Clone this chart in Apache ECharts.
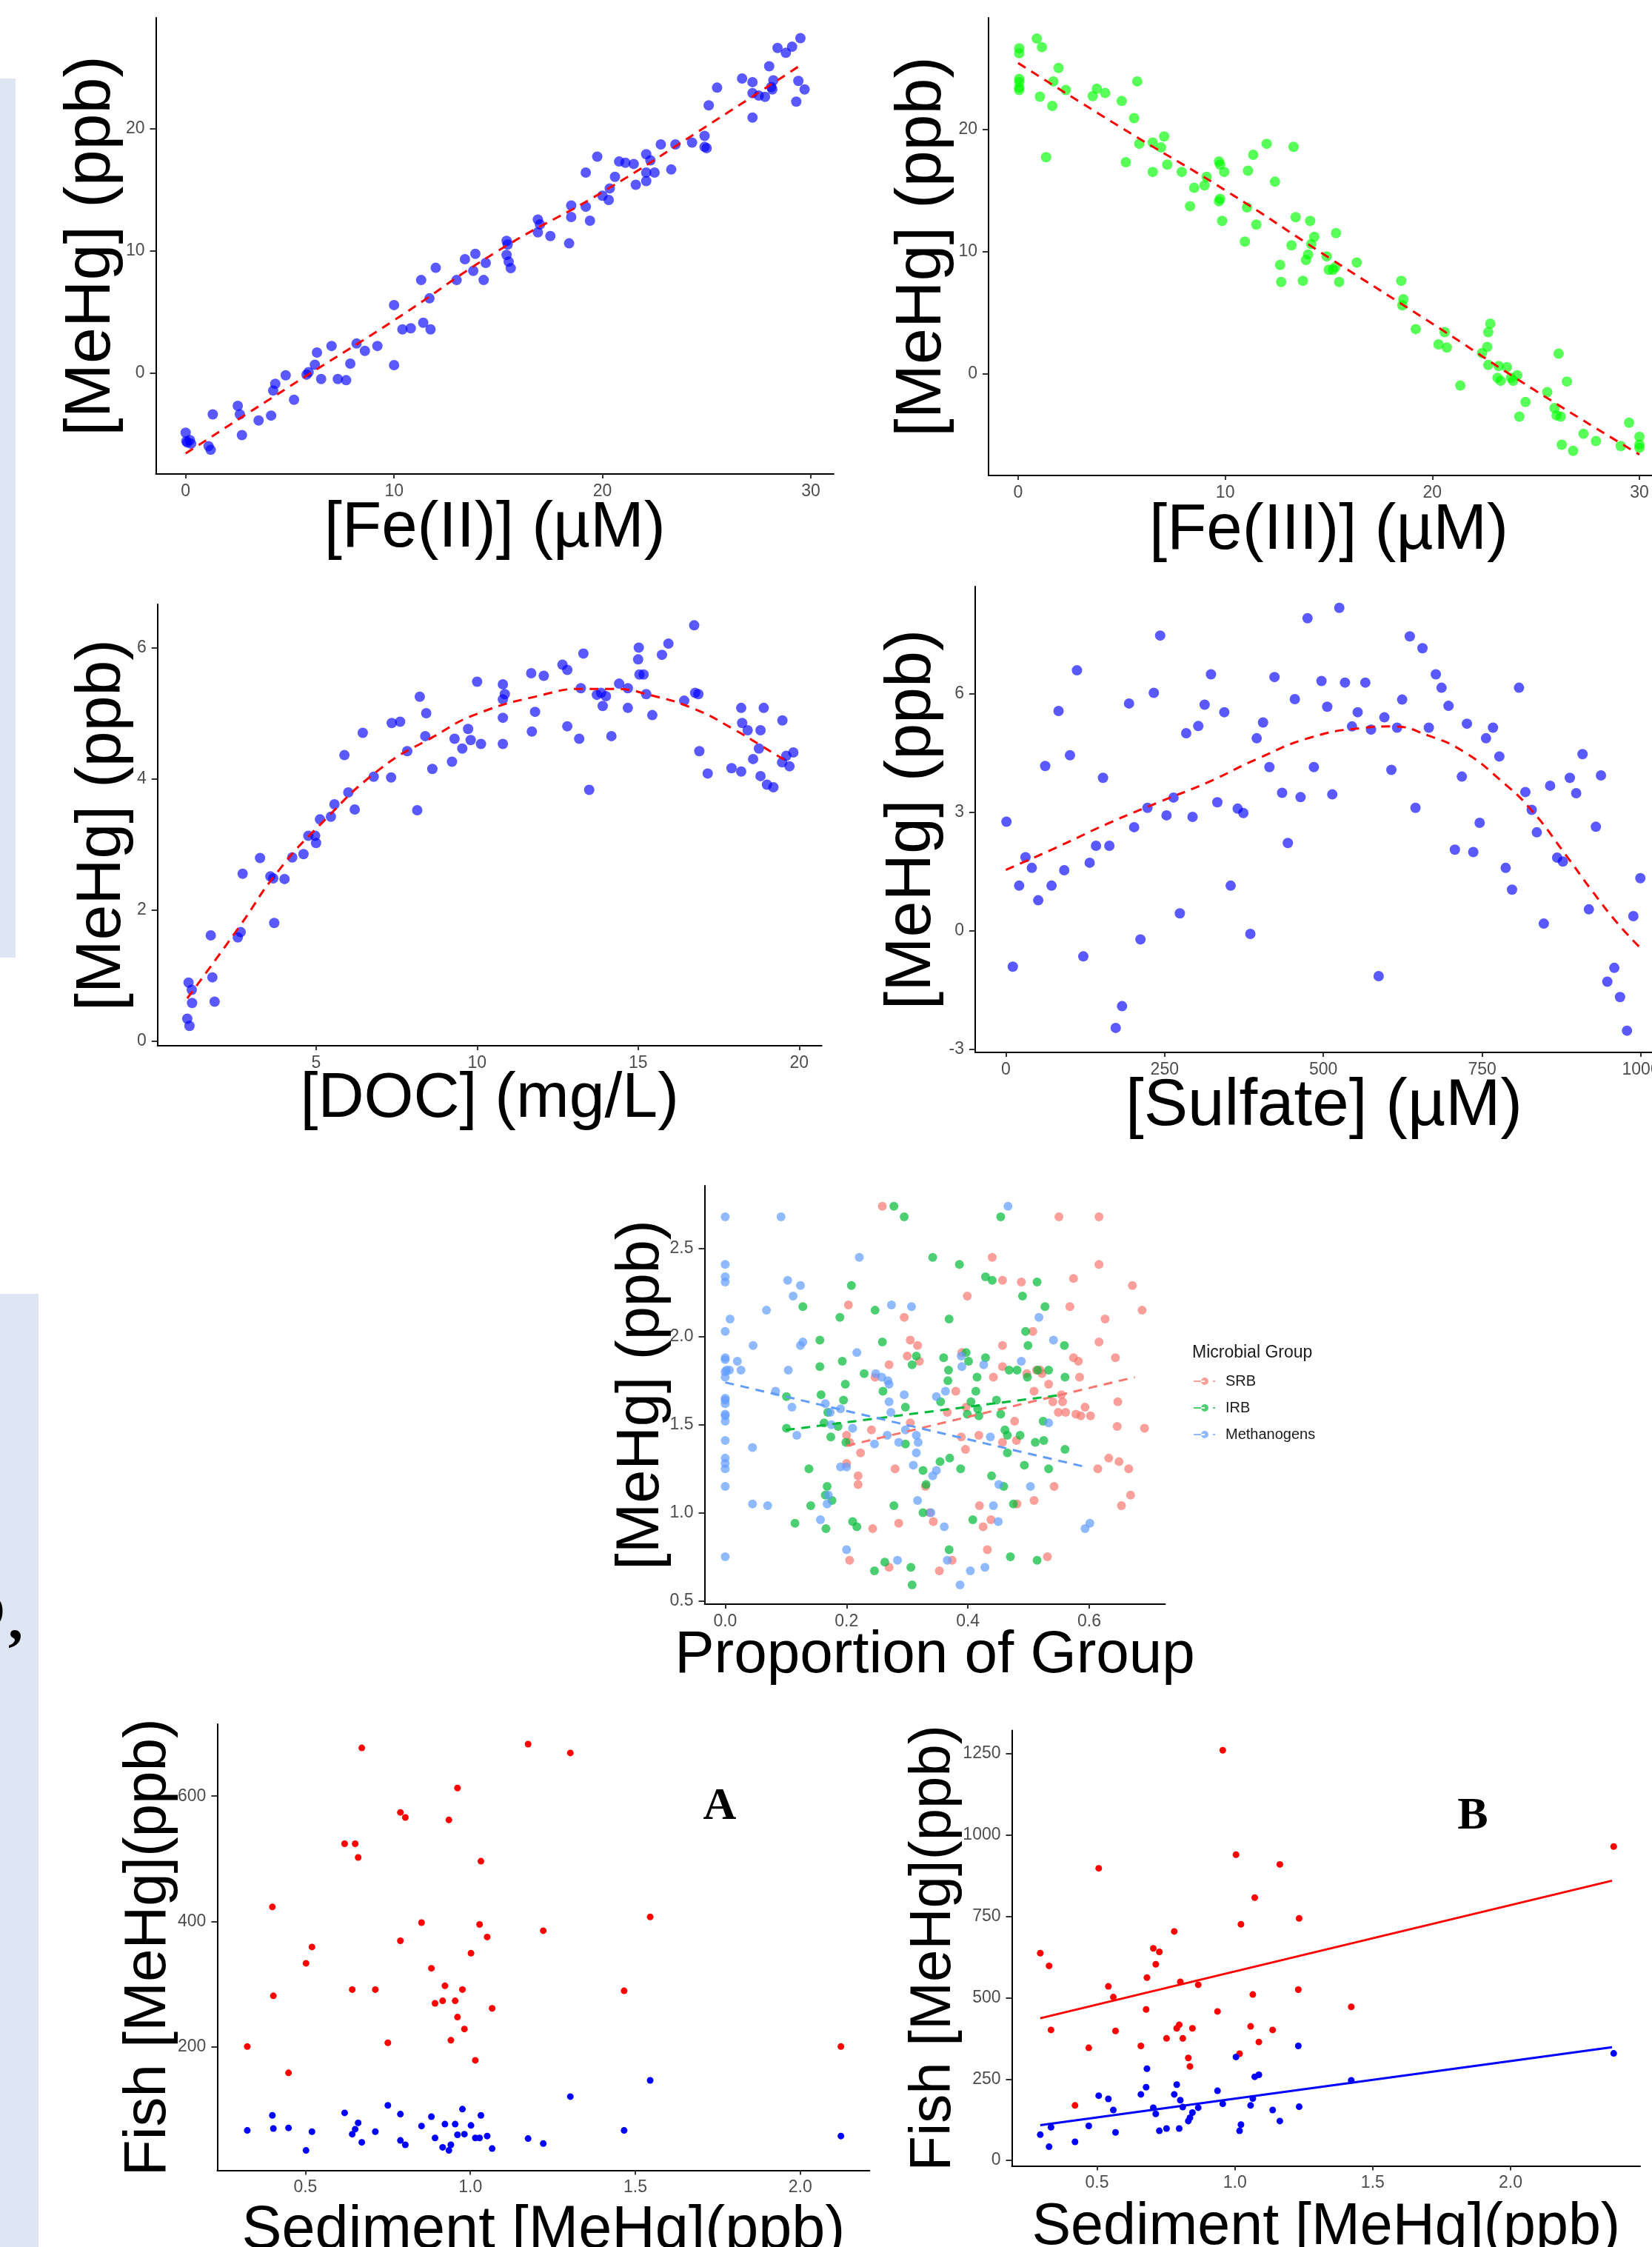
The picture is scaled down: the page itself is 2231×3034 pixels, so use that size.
<!DOCTYPE html>
<html>
<head>
<meta charset="utf-8">
<script src="https://cdn.jsdelivr.net/npm/echarts@6/dist/echarts.min.js"></script>
<style>
html, body { margin: 0; padding: 0; background: #fff; }
#chart { width: 2231px; height: 3034px; }
</style>
</head>
<body>
<div id="chart"></div>
<script>
// ---- panel 1: Fe(II)
var fe2Points = [[0,-4.9],[0.08,-5.7],[0.2,-5.5],[0.26,-5.8],[0.03,-5.6],[1.1,-6.0],[1.2,-6.3],[1.3,-3.4],[2.5,-2.7],[2.6,-3.4],[2.7,-5.1],[3.5,-3.9],[4.1,-3.5],[4.2,-1.45],[4.3,-0.9],[4.8,-0.2],[5.2,-2.2],[5.8,-0.15],[5.9,0.06],[6.2,0.66],[6.3,1.66],[6.5,-0.5],[7.0,2.2],[7.3,-0.5],[7.7,-0.6],[7.9,0.75],[8.2,2.4],[8.6,1.8],[9.2,2.2],[10.0,0.63],[10.0,5.55],[10.4,3.56],[10.8,3.65],[11.3,7.6],[11.4,4.1],[11.7,6.1],[11.75,3.56],[12.0,8.6],[13.0,7.6],[13.4,9.3],[13.8,8.35],[13.9,9.74],[14.3,7.6],[14.4,9.0],[15.4,10.8],[15.45,10.5],[15.4,9.65],[15.5,9.1],[15.6,8.57],[16.9,11.5],[16.9,12.55],[17.0,12.15],[17.5,11.2],[18.4,10.6],[18.5,13.7],[18.5,12.76],[19.2,13.6],[19.2,16.4],[19.4,12.46],[19.75,17.7],[20.0,14.5],[20.3,14.15],[20.35,15.1],[20.6,16.05],[20.8,17.3],[21.1,17.2],[21.5,17.1],[21.6,15.4],[22.1,17.9],[22.1,16.4],[22.1,15.7],[22.3,17.4],[22.5,16.4],[22.8,18.7],[23.3,16.65],[23.5,18.7],[24.3,18.85],[24.9,19.4],[24.9,18.5],[25.0,18.4],[25.1,21.9],[25.5,23.35],[26.7,24.1],[27.2,23.8],[27.2,22.9],[27.2,20.9],[27.5,22.7],[27.8,22.6],[28.0,25.1],[28.1,23.4],[28.15,23.2],[28.2,23.95],[28.4,26.6],[28.8,26.2],[29.1,26.7],[29.3,22.2],[29.4,23.9],[29.5,27.4],[29.7,23.2]];
var fe2Fit = [[0,-6.6],[5,-1.1],[10,4.3],[15,10.0],[20,14.8],[25,20.2],[29.6,25.3]];

// ---- panel 2: Fe(III)
var fe3Points = [[0.05,26.6],[0.05,26.2],[0.05,24.1],[0.05,23.85],[0.05,23.4],[0.05,23.2],[0.9,27.4],[1.15,26.7],[1.05,22.65],[1.35,17.7],[1.65,21.9],[1.7,23.9],[1.95,25.0],[2.3,23.2],[3.6,22.7],[3.8,23.3],[4.2,22.95],[5.0,22.3],[5.2,17.3],[5.6,20.9],[5.75,23.9],[5.85,18.8],[6.5,16.5],[6.5,18.9],[6.9,18.5],[7.05,19.4],[7.2,17.1],[7.9,16.5],[8.3,13.7],[8.5,15.2],[9.0,15.4],[9.1,16.1],[9.7,17.35],[9.75,17.1],[9.7,14.1],[9.75,14.3],[9.85,12.5],[9.95,16.5],[10.95,10.8],[11.1,16.6],[11.05,13.6],[11.35,17.9],[11.5,12.2],[12.0,18.8],[12.4,15.7],[12.65,8.9],[12.7,7.5],[13.2,10.5],[13.3,18.55],[13.4,12.8],[13.75,7.6],[13.9,9.3],[14.0,9.75],[14.1,12.5],[14.15,10.6],[14.3,11.2],[14.9,9.6],[15.0,8.5],[15.2,8.5],[15.35,11.5],[15.3,8.7],[15.5,7.5],[16.35,9.1],[18.5,7.6],[18.6,6.1],[18.55,5.6],[19.2,3.65],[20.3,2.4],[20.6,3.4],[20.7,2.15],[21.35,-0.96],[22.4,1.7],[22.65,2.2],[22.7,3.4],[22.8,4.1],[22.7,0.72],[23.15,-0.33],[23.2,0.63],[23.3,-0.57],[23.6,0.54],[23.8,-0.33],[23.9,-0.57],[24.1,-0.12],[24.2,-3.5],[24.5,-2.3],[25.55,-1.5],[25.9,-2.8],[26.0,-3.4],[26.2,-3.5],[26.1,1.65],[26.25,-5.8],[26.5,-0.63],[26.8,-6.3],[27.3,-4.9],[27.9,-5.5],[29.1,-5.9],[29.5,-4.0],[30.0,-5.15],[30.0,-5.8],[30.0,-6.05]];
var fe3Fit = [[0,25.4],[5,20.1],[10,15.0],[15,9.5],[20,4.1],[25,-1.4],[30,-6.6]];

// ---- panel 3: DOC
var docPoints = [[1.04,0.89],[1.14,0.78],[1.15,0.58],[1.0,0.34],[1.07,0.23],[1.73,1.61],[1.78,0.97],[1.85,0.60],[2.57,1.58],[2.66,1.66],[2.72,2.55],[3.26,2.79],[3.58,2.51],[3.67,2.48],[3.70,1.80],[4.02,2.47],[4.26,2.80],[4.61,2.85],[4.76,3.13],[4.97,3.13],[5.0,3.02],[5.12,3.38],[5.46,3.42],[5.57,3.61],[5.88,4.36],[6.0,3.79],[6.2,3.53],[6.45,4.70],[6.79,4.03],[7.33,4.02],[7.35,4.85],[7.61,4.87],[7.83,4.42],[8.14,3.52],[8.22,5.25],[8.39,4.65],[8.42,5.0],[8.61,4.15],[9.22,4.26],[9.3,4.61],[9.54,4.46],[9.72,4.76],[9.8,4.59],[10.0,5.48],[10.12,4.53],[10.8,5.44],[10.8,5.21],[10.86,5.29],[10.8,4.93],[10.8,4.53],[11.68,5.61],[11.7,4.72],[11.8,5.02],[12.07,5.57],[12.65,5.74],[12.8,5.66],[12.8,4.8],[13.17,4.61],[13.22,5.38],[13.3,5.91],[13.48,3.83],[13.72,5.28],[13.85,5.31],[13.9,5.11],[14.0,5.26],[14.17,4.65],[14.41,5.45],[14.68,5.38],[14.68,5.08],[15.0,5.82],[15.02,6.0],[15.04,5.59],[15.17,5.59],[15.25,5.29],[15.44,4.97],[15.74,5.89],[15.94,6.06],[16.43,5.19],[16.74,6.34],[16.77,5.31],[16.87,5.29],[16.9,4.42],[17.16,4.08],[17.9,4.16],[18.2,4.11],[18.2,5.08],[18.23,4.85],[18.4,4.74],[18.57,4.30],[18.75,4.46],[18.8,4.74],[18.8,4.04],[18.9,5.08],[19.0,3.91],[19.2,3.87],[19.48,4.89],[19.47,4.25],[19.6,4.35],[19.7,4.19],[19.82,4.40]];
var docFit = [[1.0,0.65],[2.6,1.73],[3.79,2.57],[5.13,3.30],[6.99,4.15],[8.68,4.65],[10.0,4.99],[12.05,5.28],[13.23,5.37],[14.24,5.37],[15.42,5.27],[16.77,5.06],[17.95,4.76],[18.8,4.51],[19.6,4.27]];

// ---- panel 4: sulfate
var sulfatePoints = [[1,2.76],[11,-0.91],[21,1.14],[31,1.86],[41,1.59],[51,0.77],[62,4.17],[72,1.14],[83,5.56],[92,1.53],[101,4.44],[112,6.59],[122,-0.65],[132,1.72],[142,2.15],[153,3.87],[163,2.15],[173,-2.46],[183,-1.91],[194,5.75],[202,2.62],[212,-0.22],[223,3.11],[233,6.02],[243,7.47],[253,2.92],[264,3.37],[274,0.44],[284,5.0],[294,2.88],[303,5.18],[313,5.72],[323,6.49],[333,3.25],[344,5.53],[354,1.14],[365,3.09],[374,2.98],[385,-0.08],[395,4.87],[405,5.27],[415,4.14],[423,6.42],[435,3.49],[444,2.22],[455,5.86],[464,3.38],[475,7.91],[485,4.14],[497,6.32],[506,5.67],[514,3.45],[525,8.17],[534,6.28],[545,5.17],[554,5.53],[566,6.28],[575,5.09],[587,-1.15],[596,5.40],[607,4.07],[616,5.14],[624,5.85],[636,7.45],[645,3.11],[656,7.15],[666,5.14],[677,6.49],[686,6.15],[697,5.69],[707,2.05],[718,3.9],[726,5.24],[736,1.99],[746,2.73],[756,4.87],[767,5.14],[777,4.41],[787,1.59],[797,1.04],[808,6.15],[818,3.51],[828,3.06],[836,2.49],[847,0.18],[857,3.67],[868,1.85],[877,1.75],[888,3.87],[898,3.48],[908,4.47],[918,0.54],[929,2.63],[937,3.93],[947,-1.29],[958,-0.94],[967,-1.68],[978,-2.53],[988,0.37],[999,1.33]];
var sulfateFit = [[0,1.54],[79,2.10],[159,2.70],[239,3.24],[320,3.77],[400,4.38],[480,4.89],[561,5.13],[609,5.17],[665,4.94],[722,4.52],[778,3.82],[826,3.08],[882,1.91],[922,1.03],[963,0.19],[1000,-0.45]];

// ---- panel 5: proportion of group
var groupNames = ['SRB', 'IRB', 'Methanogens'];
var srbPoints = [[0.2,1.44],[0.2,1.28],[0.203,2.18],[0.205,1.40],[0.205,0.73],[0.219,1.21],[0.219,1.16],[0.223,1.34],[0.241,1.47],[0.243,0.91],[0.247,1.77],[0.259,2.74],[0.27,1.84],[0.27,0.69],[0.28,1.25],[0.286,0.94],[0.295,2.11],[0.3,1.89],[0.305,1.98],[0.305,1.51],[0.317,1.95],[0.32,1.86],[0.33,1.15],[0.337,1.0],[0.343,0.95],[0.353,0.67],[0.366,1.57],[0.374,0.73],[0.38,1.69],[0.389,1.43],[0.39,1.91],[0.396,1.36],[0.397,1.60],[0.399,2.23],[0.418,1.44],[0.419,1.04],[0.425,0.92],[0.432,0.79],[0.438,0.96],[0.44,2.45],[0.442,1.77],[0.457,2.32],[0.457,1.95],[0.457,1.83],[0.457,1.40],[0.477,1.52],[0.48,1.41],[0.481,1.05],[0.488,2.31],[0.497,1.79],[0.507,2.03],[0.509,1.69],[0.509,1.07],[0.513,1.81],[0.519,1.81],[0.522,1.79],[0.531,0.75],[0.533,1.73],[0.54,1.63],[0.542,1.15],[0.55,2.68],[0.549,1.57],[0.554,1.67],[0.556,1.63],[0.561,1.57],[0.568,2.17],[0.574,2.33],[0.574,1.88],[0.582,1.86],[0.578,1.56],[0.584,1.77],[0.586,1.55],[0.593,1.60],[0.602,1.55],[0.616,2.68],[0.616,2.41],[0.616,1.97],[0.614,1.25],[0.626,2.10],[0.632,1.31],[0.643,1.88],[0.646,1.49],[0.647,1.63],[0.649,1.29],[0.653,1.04],[0.665,1.25],[0.668,1.10],[0.671,2.29],[0.687,2.15],[0.691,1.48]];
var irbPoints = [[0.101,1.48],[0.101,1.66],[0.115,0.94],[0.128,2.17],[0.138,1.25],[0.141,1.04],[0.156,1.98],[0.156,1.83],[0.158,1.67],[0.163,1.51],[0.165,1.10],[0.168,1.15],[0.166,0.91],[0.169,1.57],[0.174,1.43],[0.176,1.07],[0.186,1.49],[0.189,2.11],[0.193,1.86],[0.195,1.64],[0.198,1.73],[0.199,1.40],[0.208,2.29],[0.21,0.95],[0.217,0.92],[0.229,1.79],[0.246,0.67],[0.247,2.15],[0.259,1.97],[0.26,1.69],[0.263,0.72],[0.278,2.74],[0.278,1.04],[0.295,2.68],[0.297,1.60],[0.297,1.39],[0.306,0.69],[0.308,1.84],[0.308,0.59],[0.315,1.89],[0.326,1.24],[0.326,1.0],[0.331,1.16],[0.342,2.45],[0.355,1.63],[0.354,1.29],[0.36,1.88],[0.367,1.75],[0.368,1.81],[0.369,2.10],[0.37,1.31],[0.369,0.79],[0.386,2.41],[0.388,1.25],[0.397,1.91],[0.399,1.56],[0.401,1.86],[0.405,1.63],[0.408,0.96],[0.413,1.69],[0.415,1.77],[0.416,1.59],[0.418,1.55],[0.429,1.88],[0.429,2.34],[0.44,2.32],[0.439,1.21],[0.447,1.64],[0.454,2.68],[0.454,1.56],[0.459,1.15],[0.461,1.47],[0.465,1.44],[0.465,1.34],[0.468,1.81],[0.47,0.75],[0.475,1.05],[0.481,1.81],[0.486,1.44],[0.49,2.23],[0.493,1.27],[0.495,2.03],[0.498,1.77],[0.499,1.95],[0.511,1.40],[0.514,0.73],[0.514,2.31],[0.515,1.81],[0.524,1.52],[0.525,1.41],[0.527,2.17],[0.533,1.81],[0.533,1.25],[0.559,1.95],[0.56,1.77],[0.56,1.36]];
var methPoints = [[0,2.68],[0,2.41],[0,2.34],[0,2.31],[0,2.03],[0.008,2.10],[0,1.88],[0,1.87],[0.002,1.81],[0.007,1.81],[0,1.80],[0,1.77],[0,1.65],[0,1.64],[0,1.62],[0,1.56],[0,1.55],[0,1.52],[0,1.41],[0,1.31],[0,1.28],[0,1.25],[0,1.15],[0,0.75],[0.02,1.86],[0.026,1.81],[0.046,1.95],[0.045,1.37],[0.045,1.05],[0.068,2.15],[0.07,1.04],[0.083,1.69],[0.092,2.68],[0.103,2.32],[0.104,1.81],[0.11,1.60],[0.112,2.23],[0.118,1.44],[0.124,2.29],[0.124,1.95],[0.128,1.97],[0.157,0.96],[0.165,1.62],[0.168,1.05],[0.17,1.10],[0.173,1.57],[0.175,1.50],[0.19,1.26],[0.19,1.59],[0.2,0.79],[0.2,1.26],[0.21,1.48],[0.217,1.91],[0.221,2.45],[0.246,1.39],[0.248,1.79],[0.258,1.77],[0.267,1.44],[0.268,1.75],[0.27,1.63],[0.27,1.73],[0.274,2.18],[0.273,1.57],[0.284,0.73],[0.286,1.40],[0.295,1.67],[0.297,1.47],[0.307,2.17],[0.31,1.27],[0.315,1.44],[0.315,1.34],[0.317,1.07],[0.318,1.40],[0.339,1.0],[0.342,1.21],[0.348,1.24],[0.348,1.66],[0.361,0.92],[0.363,1.69],[0.366,0.73],[0.387,0.59],[0.389,1.89],[0.39,1.83],[0.404,0.67],[0.426,1.84],[0.428,0.69],[0.437,1.43],[0.442,1.04],[0.451,1.16],[0.45,0.95],[0.466,2.74],[0.488,1.86],[0.503,1.15],[0.517,2.11],[0.533,1.51],[0.541,1.98],[0.593,0.91],[0.601,0.94]];
var srbFit = [[0.2,1.38],[0.675,1.77]];
var irbFit = [[0.1,1.47],[0.556,1.67]];
var methFit = [[0,1.74],[0.594,1.26]];

// ---- panel 6 (A) and panel 7 (B)
var fishARed = [[0.324,200],[0.40,423],[0.403,281],[0.449,158],[0.502,333],[0.52,359],[0.619,524],[0.642,291],[0.651,524],[0.66,502],[0.671,677],[0.712,291],[0.75,206],[0.788,574],[0.788,369],[0.803,566],[0.852,398],[0.882,325],[0.893,269],[0.916,273],[0.923,297],[0.935,562],[0.941,210],[0.954,273],[0.961,613],[0.961,247],[0.976,291],[0.982,228],[1.002,349],[1.015,178],[1.028,395],[1.032,496],[1.051,375],[1.066,261],[1.175,683],[1.221,385],[1.303,669],[1.466,289],[1.545,407],[2.123,200]];
var fishABlue = [[0.324,66],[0.40,90],[0.403,69],[0.449,70],[0.502,34],[0.52,64],[0.619,94],[0.642,60],[0.651,68],[0.66,78],[0.671,47],[0.712,64],[0.75,106],[0.788,92],[0.788,50],[0.803,43],[0.852,73],[0.882,88],[0.893,54],[0.916,39],[0.923,76],[0.935,34],[0.941,43],[0.954,76],[0.961,59],[0.976,100],[0.982,60],[1.002,74],[1.015,54],[1.028,54],[1.032,90],[1.051,57],[1.066,37],[1.175,53],[1.221,45],[1.303,120],[1.466,66],[1.545,146],[2.123,57]];
var fishBRed = [[0.294,637],[0.326,598],[0.333,401],[0.42,169],[0.47,346],[0.506,898],[0.541,535],[0.559,502],[0.567,398],[0.659,352],[0.678,464],[0.681,562],[0.704,652],[0.713,603],[0.726,641],[0.752,375],[0.78,704],[0.789,406],[0.798,417],[0.802,549],[0.811,375],[0.831,315],[0.837,289],[0.846,406],[0.867,540],[0.937,458],[0.956,1261],[1.004,940],[1.017,328],[1.022,726],[1.057,412],[1.065,510],[1.072,808],[1.087,364],[1.137,401],[1.163,910],[1.23,525],[1.233,744],[1.422,472],[2.374,965]];
var fishBBlue = [[0.294,79],[0.326,42],[0.333,102],[0.42,57],[0.47,106],[0.506,199],[0.541,189],[0.559,155],[0.567,86],[0.659,203],[0.678,225],[0.681,282],[0.704,162],[0.713,143],[0.726,91],[0.752,98],[0.78,203],[0.789,233],[0.798,98],[0.802,185],[0.811,164],[0.831,121],[0.837,131],[0.846,147],[0.867,162],[0.937,214],[0.956,174],[1.004,318],[1.017,91],[1.022,110],[1.057,169],[1.065,190],[1.072,257],[1.087,263],[1.137,155],[1.163,121],[1.23,352],[1.233,165],[1.422,246],[2.374,329]];
var fishBRedFit = [[0.294,437],[2.368,860]];
var fishBBlueFit = [[0.294,108],[2.368,348]];

// ---- tick values
var ironTicksX = [0, 10, 20, 30];
var ironTicksY = [0, 10, 20];
var docTicksX = [5, 10, 15, 20];
var docTicksY = [0, 2, 4, 6];
var sulfateTicksX = [0, 250, 500, 750, 1000];
var sulfateTicksY = [-3, 0, 3, 6];
var groupTicksX = [0, 0.2, 0.4, 0.6];
var groupTicksY = [0.5, 1.0, 1.5, 2.0, 2.5];
var fishTicksX = [0.5, 1.0, 1.5, 2.0];
var fishATicksY = [200, 400, 600];
var fishBTicksY = [0, 250, 500, 750, 1000, 1250];

var FONT = '"Liberation Sans", Arial, sans-serif';

function fmt(digits) {
    return function (v) { return digits ? v.toFixed(digits) : String(v); };
}

function axis(dim, i, min, max, ticks, name, nameSize, nameGap, digits) {
    return {
        type: 'value', gridIndex: i, min: min, max: max,
        name: name, nameLocation: 'middle', nameGap: nameGap, nameMoveOverlap: false,
        nameTextStyle: {fontSize: nameSize, color: '#000', fontFamily: FONT},
        axisLine: {show: true, onZero: false, lineStyle: {color: '#000', width: 2}},
        axisTick: {show: true, length: dim === 'x' ? 6 : 8, customValues: ticks,
            lineStyle: {color: '#333', width: 2}},
        axisLabel: {show: true, margin: dim === 'x' ? 12 : 15, customValues: ticks,
            fontSize: 23, color: '#4d4d4d', fontFamily: FONT, formatter: fmt(digits)},
        splitLine: {show: false}
    };
}

function scatter(i, data, color, size, opacity, name) {
    return {
        type: 'scatter', name: name, xAxisIndex: i, yAxisIndex: i, data: data,
        symbolSize: size, itemStyle: {color: color, opacity: opacity}, silent: true
    };
}

function fit(i, data, color, dashed, smooth) {
    return {
        type: 'line', xAxisIndex: i, yAxisIndex: i, data: data,
        showSymbol: false, symbol: 'none', smooth: smooth, silent: true,
        lineStyle: {color: color, width: 3, type: dashed ? [12, 9] : 'solid'}
    };
}

function grid(left, top, width, height) {
    return {left: left, top: top, width: width, height: height,
        containLabel: false, outerBoundsMode: 'none'};
}

var chart = echarts.init(document.getElementById('chart'));

chart.setOption({
    animation: false,
    backgroundColor: '#fff',
    grid: [
        grid(210.5, 24, 915.5, 616),
        grid(1335, 24, 919, 618),
        grid(212.7, 816, 897, 596),
        grid(1317, 792, 942, 629),
        grid(951.5, 1601, 622, 565),
        grid(293.4, 2328, 881, 602.5),
        grid(1366.5, 2336.5, 848.5, 588)
    ],
    xAxis: [
        axis('x', 0, -1.43, 31.1, ironTicksX, '[Fe(II)] (µM)', 87, 31),
        axis('x', 1, -1.43, 31.43, ironTicksX, '[Fe(III)] (µM)', 87, 32),
        axis('x', 2, 0.076, 20.7, docTicksX, '[DOC] (mg/L)', 86, 29),
        axis('x', 3, -48.2, 1050, sulfateTicksX, '[Sulfate] (µM)', 89, 29),
        axis('x', 4, -0.034, 0.725, groupTicksX, 'Proportion of Group', 80, 30, 1),
        axis('x', 5, 0.233, 2.21, fishTicksX, 'Sediment [MeHg](ppb)', 81, 42, 1),
        axis('x', 6, 0.191, 2.47, fishTicksX, 'Sediment [MeHg](ppb)', 79, 44, 1)
    ],
    yAxis: [
        axis('y', 0, -8.28, 29.07, ironTicksY, '[MeHg] (ppb)', 88, 43),
        axis('y', 1, -8.31, 29.1, ironTicksY, '[MeHg] (ppb)', 88, 45),
        axis('y', 2, -0.073, 6.66, docTicksY, '[MeHg] (ppb)', 86, 31),
        axis('y', 3, -3.08, 8.71, sulfateTicksY, '[MeHg] (ppb)', 88, 41),
        axis('y', 4, 0.481, 2.857, groupTicksY, '[MeHg] (ppb)', 81, 44, 1),
        axis('y', 5, 2.2, 715, fishATicksY, 'Fish [MeHg](ppb)', 80, 52),
        axis('y', 6, -17, 1322, fishBTicksY, 'Fish [MeHg](ppb)', 78, 66)
    ],
    legend: {
        orient: 'vertical', left: 1612, top: 1855, padding: 0,
        itemWidth: 29, itemHeight: 10, itemGap: 16,
        data: groupNames,
        icon: 'path://M0,4h15v2h-15z M10,5a5,5 0 1,0 10,0a5,5 0 1,0 -10,0z M26,4h3v2h-3z',
        textStyle: {fontSize: 20, color: '#1a1a1a', fontFamily: FONT, padding: [0, 0, 0, 9]}
    },
    graphic: [
        {type: 'rect', z: -10, shape: {x: 0, y: 106, width: 21, height: 1187}, style: {fill: '#dfe6f3'}},
        {type: 'rect', z: -10, shape: {x: 0, y: 1747, width: 52, height: 1287}, style: {fill: '#dfe6f3'}},
        {type: 'text', x: 6.5, y: 2173, style: {text: 'o', align: 'right', verticalAlign: 'middle',
            font: 'bold 80px "Liberation Serif", serif', fill: '#000'}},
        {type: 'text', x: 21, y: 2192, style: {text: ',', align: 'center', verticalAlign: 'middle',
            font: 'bold 80px "Liberation Serif", serif', fill: '#000'}},
        {type: 'text', x: 1610, y: 1827, style: {text: 'Microbial Group', verticalAlign: 'middle',
            font: '23px "Liberation Sans", Arial, sans-serif', fill: '#1a1a1a'}},
        {type: 'text', x: 972, y: 2440, style: {text: 'A', align: 'center', verticalAlign: 'middle',
            font: 'bold 62px "Liberation Serif", serif', fill: '#000'}},
        {type: 'text', x: 1989, y: 2453, style: {text: 'B', align: 'center', verticalAlign: 'middle',
            font: 'bold 62px "Liberation Serif", serif', fill: '#000'}}
    ],
    series: [
        scatter(0, fe2Points, '#0000ff', 14, 0.65),
        fit(0, fe2Fit, '#ff0000', true, true),
        scatter(1, fe3Points, '#00ff00', 14, 0.65),
        fit(1, fe3Fit, '#ff0000', true, true),
        scatter(2, docPoints, '#0000ff', 14, 0.65),
        fit(2, docFit, '#ff0000', true, true),
        scatter(3, sulfatePoints, '#0000ff', 14, 0.65),
        fit(3, sulfateFit, '#ff0000', true, true),
        scatter(4, srbPoints, '#F8766D', 12, 0.7, 'SRB'),
        scatter(4, irbPoints, '#00BA38', 12, 0.7, 'IRB'),
        scatter(4, methPoints, '#619CFF', 12, 0.7, 'Methanogens'),
        fit(4, srbFit, '#F8766D', true, false),
        fit(4, irbFit, '#00BA38', true, false),
        fit(4, methFit, '#619CFF', true, false),
        scatter(5, fishARed, '#ff0000', 9, 1),
        scatter(5, fishABlue, '#0000ff', 9, 1),
        scatter(6, fishBRed, '#ff0000', 9, 1),
        scatter(6, fishBBlue, '#0000ff', 9, 1),
        fit(6, fishBRedFit, '#ff0000', false, false),
        fit(6, fishBBlueFit, '#0000ff', false, false)
    ]
});
</script>
</body>
</html>
